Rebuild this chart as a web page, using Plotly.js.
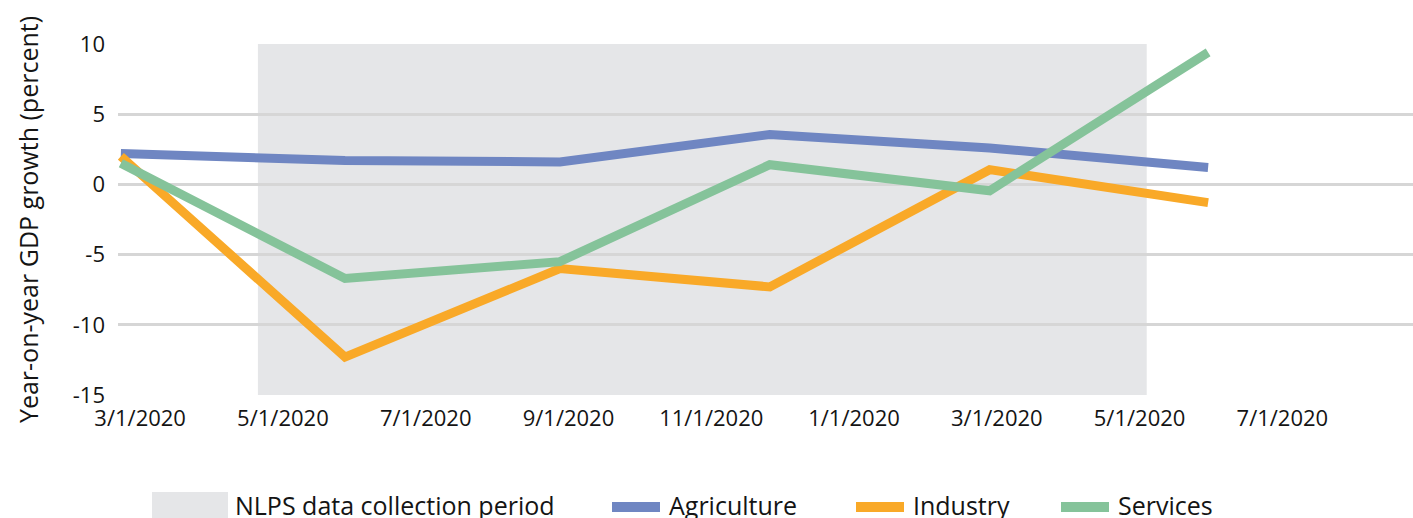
<!DOCTYPE html>
<html>
<head>
<meta charset="utf-8">
<script src="https://cdn.plot.ly/plotly-3.0.1.min.js"></script>
<style>html,body{margin:0;padding:0;background:#fff;}#chart{width:1413px;height:518px;}</style>
</head>
<body>
<div id="chart"></div>
<script>
// x positions: months after the first tick label (3/1/2020)
const pointMonths = [-0.27, 2.87, 5.88, 8.82, 11.9, 14.96];
const agriculture = [2.2, 1.7, 1.6, 3.55, 2.6, 1.2];
const industry = [2.0, -12.3, -6.0, -7.3, 1.05, -1.3];
const services = [1.5, -6.7, -5.5, 1.4, -0.45, 9.4];
const tickMonths = [0, 2, 4, 6, 8, 10, 12, 14, 16];
const tickLabels = ["3/1/2020", "5/1/2020", "7/1/2020", "9/1/2020", "11/1/2020", "1/1/2020", "3/1/2020", "5/1/2020", "7/1/2020"];
const periodStart = 1.65, periodEnd = 14.1;
const seriesNames = ["Agriculture", "Industry", "Services"];
const seriesColors = ["#6f86c2", "#f9a928", "#85c39a"];
const seriesValues = [agriculture, industry, services];
const periodLabel = "NLPS data collection period";
const periodColor = "#e5e6e8";

const W = 1413, H = 518;
const M = {l: 118, r: 0, t: 44, b: 123};
const pw = W - M.l - M.r, ph = H - M.t - M.b;
const px = x => (x - M.l) / pw;
const py = y => (H - M.b - y) / ph;

const FONT = "Open Sans, Noto Sans, sans-serif";
const TXT = "#141414";

const traces = seriesNames.map((n, i) => ({
  type: "scatter", mode: "lines", name: n,
  x: pointMonths, y: seriesValues[i],
  line: {color: seriesColors[i], width: 9},
  showlegend: false, hoverinfo: "x+y"
}));

const shapes = [
  {type: "rect", xref: "x", yref: "paper", x0: periodStart, x1: periodEnd, y0: 0, y1: 1,
   fillcolor: periodColor, line: {width: 0}, layer: "below"}
];
const annotations = [];
// custom legend
const legY = 505;
shapes.push({type: "rect", xref: "paper", yref: "paper", x0: px(152), x1: px(228), y0: py(492), y1: py(530),
  fillcolor: periodColor, line: {width: 0}});
annotations.push({xref: "paper", yref: "paper", x: px(233), y: py(legY), xanchor: "left", yanchor: "middle",
  text: periodLabel, showarrow: false, font: {family: FONT, size: 25, color: TXT}});
const legX = [612, 856, 1061];
seriesNames.forEach((n, i) => {
  shapes.push({type: "line", xref: "paper", yref: "paper", x0: px(legX[i]), x1: px(legX[i] + 48), y0: py(legY + 2), y1: py(legY + 2),
    line: {color: seriesColors[i], width: 10}});
  annotations.push({xref: "paper", yref: "paper", x: px(legX[i] + 55), y: py(legY), xanchor: "left", yanchor: "middle",
    text: n, showarrow: false, font: {family: FONT, size: 25, color: TXT}});
});

const layout = {
  width: W, height: H,
  margin: M,
  paper_bgcolor: "#fff", plot_bgcolor: "#fff",
  font: {family: FONT, size: 22, color: TXT},
  showlegend: false,
  xaxis: {
    range: [-0.31, 17.83], tickmode: "array", tickvals: tickMonths, ticktext: tickLabels,
    showgrid: false, zeroline: false, showline: false, ticks: "", ticklabelstandoff: 8,
    tickfont: {family: FONT, size: 22, color: TXT}, fixedrange: true
  },
  yaxis: {
    range: [-15, 10], tickvals: [-15, -10, -5, 0, 5, 10], ticktext: ["-15", "-10", "-5", "0", "5", "10"],
    showgrid: true, gridcolor: "#d6d6d6", gridwidth: 2.5, zeroline: false, showline: false, ticks: "",
    ticklabelstandoff: 12,
    tickfont: {family: FONT, size: 22, color: TXT},
    title: {text: "Year-on-year GDP growth (percent)", font: {family: FONT, size: 25, color: TXT}, standoff: 27},
    fixedrange: true
  },
  shapes: shapes,
  annotations: annotations
};

Plotly.newPlot("chart", traces, layout, {displayModeBar: false, responsive: false});
</script>
</body>
</html>
